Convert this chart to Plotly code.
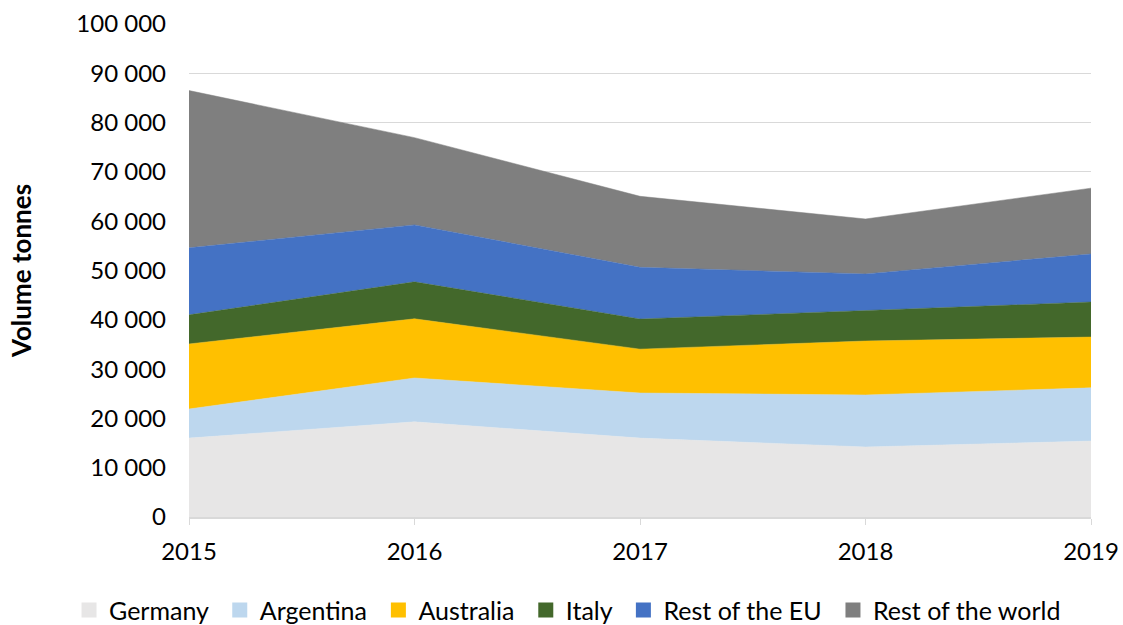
import plotly.graph_objects as go

years = [2015, 2016, 2017, 2018, 2019]
germany = [16000, 19300, 16000, 14200, 15400]
argentina = [5900, 8900, 9150, 10550, 10800]
australia = [13200, 12000, 8900, 10950, 10300]
italy = [5900, 7500, 6100, 6100, 7100]
rest_eu = [13600, 11550, 10500, 7500, 9750]
rest_world = [31900, 17700, 14400, 11150, 13350]

series = [
    ("Germany", germany, "#e7e6e6"),
    ("Argentina", argentina, "#bdd7ee"),
    ("Australia", australia, "#ffc000"),
    ("Italy", italy, "#43682b"),
    ("Rest of the EU", rest_eu, "#4472c4"),
    ("Rest of the world", rest_world, "#7f7f7f"),
]

fig = go.Figure()
for name, vals, col in series:
    fig.add_trace(go.Scatter(
        x=years, y=vals, name=name, mode="lines", stackgroup="one",
        line=dict(width=0.5, color=col), fillcolor=col, showlegend=False,
    ))
# legend entries with square markers
for name, vals, col in series:
    fig.add_trace(go.Scatter(
        x=[None], y=[None], name=name + "\u00a0", mode="markers",
        marker=dict(symbol="square", size=15, color=col), showlegend=True,
    ))

font = "Lato, Carlito, Calibri, sans-serif"
W, H = 1123, 625
fig.update_layout(
    width=W, height=H,
    margin=dict(l=189, r=32, t=24, b=108, autoexpand=False),
    paper_bgcolor="white", plot_bgcolor="white",
    separators=". ",
    font=dict(family=font, size=24, color="black"),
    showlegend=True,
    legend=dict(orientation="h", x=-0.133, xanchor="left", y=-0.189, yanchor="middle",
                font=dict(size=25), traceorder="normal", itemwidth=30,
                tracegroupgap=0),
    xaxis=dict(range=[2015, 2019], tickvals=years, ticktext=[str(y) for y in years],
               showgrid=False, showline=True, linecolor="#d9d9d9", linewidth=1.5,
               ticks="outside", tickcolor="#d9d9d9", ticklen=6, zeroline=False,
               tickfont=dict(size=24), ticklabelstandoff=6, automargin=False,
               ticklabeloverflow="allow"),
    yaxis=dict(range=[0, 100000], dtick=10000, tickformat=",d",
               showgrid=True, gridcolor="#d9d9d9", gridwidth=1, zeroline=False,
               showline=False, ticks="", tickfont=dict(size=24),
               ticklabelstandoff=22, automargin=False,
               title=dict(text="<b>Volume tonnes</b>", font=dict(size=26), standoff=37)),
)

fig.write_html("out.html", config={"displayModeBar": False},
               post_script="document.body.style.margin='0';")
